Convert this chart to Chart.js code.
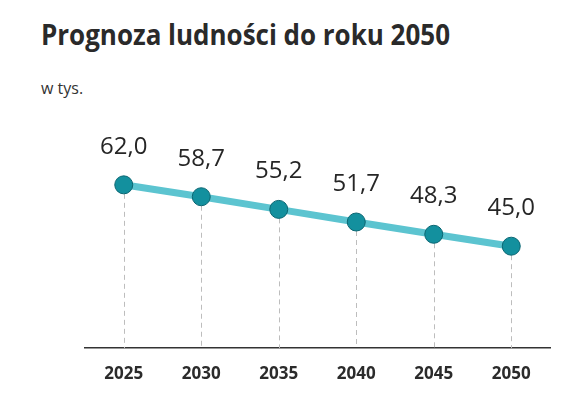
<!DOCTYPE html>
<html lang="pl">
<head>
<meta charset="utf-8">
<script src="https://cdn.jsdelivr.net/npm/chart.js@4/dist/chart.umd.min.js"></script>
<style>
  html, body { margin: 0; padding: 0; background: #fff; }
  #wrap { position: relative; width: 586px; height: 396px; overflow: hidden; }
  #title {
    position: absolute; left: 41px; top: 20px; margin: 0;
    font: bold 28px "Open Sans", sans-serif; line-height: 1; color: #2a2a2a;
    white-space: nowrap; transform-origin: 0 0;
  }
  #subtitle {
    position: absolute; left: 41px; top: 80px;
    font: 16px "Open Sans", sans-serif; line-height: 1; color: #333;
  }
  canvas { position: absolute; left: 0; top: 0; }
</style>
</head>
<body>
<div id="wrap">
  <h1 id="title">Prognoza ludności do roku 2050</h1>
  <div id="subtitle">w tys.</div>
  <canvas id="chart" width="586" height="396"></canvas>
</div>
<script>
const years = ['2025', '2030', '2035', '2040', '2045', '2050'];
const population = [62.0, 58.7, 55.2, 51.7, 48.3, 45.0];

// dopasowanie szerokości tytułu do oryginału
const titleEl = document.getElementById('title');
const titleWidth = titleEl.getBoundingClientRect().width;
titleEl.style.transform = `scaleX(${409 / titleWidth})`;

const formatValue = (v) => v.toFixed(1).replace('.', ',');

// przerywane linie od punktu do osi
const dropLines = {
  id: 'dropLines',
  beforeDatasetsDraw(chart) {
    const { ctx, chartArea } = chart;
    const meta = chart.getDatasetMeta(0);
    ctx.save();
    ctx.strokeStyle = '#bdbdbd';
    ctx.lineWidth = 1;
    ctx.setLineDash([5, 4]);
    meta.data.forEach(pt => {
      const x = Math.round(pt.x) + 0.5;
      ctx.beginPath();
      ctx.moveTo(x, pt.y);
      ctx.lineTo(x, chartArea.bottom);
      ctx.stroke();
    });
    ctx.restore();
  }
};

// etykiety wartości nad punktami
const valueLabels = {
  id: 'valueLabels',
  afterDatasetsDraw(chart) {
    const { ctx } = chart;
    const meta = chart.getDatasetMeta(0);
    ctx.save();
    ctx.font = '24px "Open Sans", sans-serif';
    ctx.fillStyle = '#262626';
    ctx.textAlign = 'center';
    ctx.textBaseline = 'alphabetic';
    meta.data.forEach((pt, i) => {
      ctx.fillText(formatValue(population[i]), pt.x, pt.y - 31);
    });
    ctx.restore();
  }
};

new Chart(document.getElementById('chart').getContext('2d'), {
  type: 'line',
  data: {
    labels: years,
    datasets: [{
      data: population,
      borderColor: '#5cc4d0',
      borderWidth: 7,
      tension: 0,
      pointRadius: 9,
      pointBackgroundColor: '#13909e',
      pointBorderColor: '#0b6672',
      pointBorderWidth: 1
    }]
  },
  options: {
    responsive: false,
    animation: false,
    layout: { padding: { top: 100, left: 85, right: 36, bottom: 0 } },
    plugins: { legend: { display: false }, tooltip: { enabled: false } },
    scales: {
      x: {
        type: 'category',
        offset: true,
        grid: { display: false },
        border: { display: true, color: '#333', width: 1.5 },
        ticks: {
          color: '#2b2b2b',
          padding: 8,
          font: { family: '"Open Sans", sans-serif', size: 17, weight: 'bold' }
        },
        afterFit: (scale) => { scale.height = 48; }
      },
      y: {
        display: false,
        min: 16.8,
        max: 85.5
      }
    }
  },
  plugins: [dropLines, valueLabels]
});
</script>
</body>
</html>
